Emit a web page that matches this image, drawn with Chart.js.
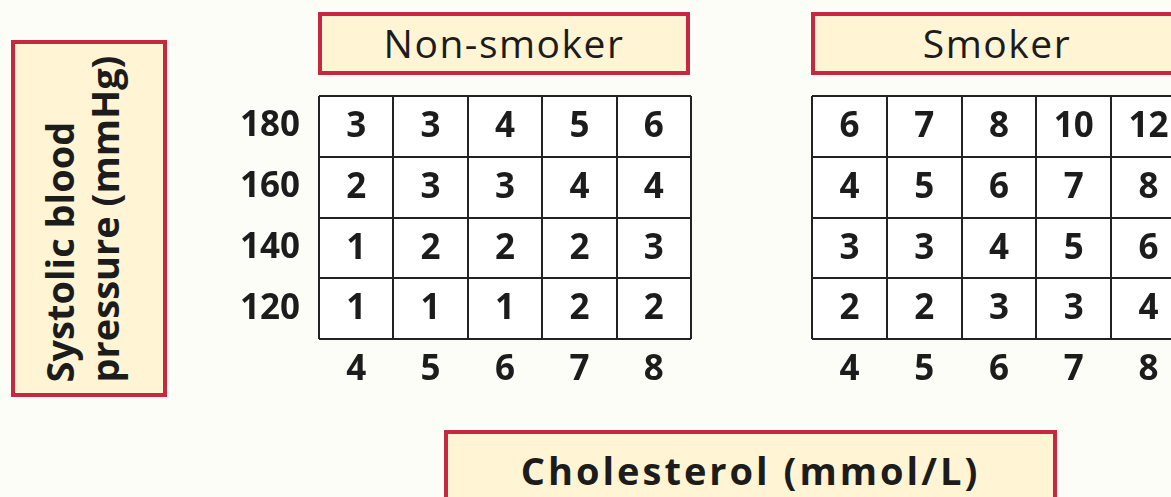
<!DOCTYPE html>
<html>
<head>
<meta charset="utf-8">
<script src="https://cdn.jsdelivr.net/npm/chart.js@4"></script>
<style>
  html, body { margin: 0; padding: 0; background: #fdfdf8; overflow: hidden; }
  body { width: 1171px; height: 497px; position: relative; font-family: "Open Sans", sans-serif; color: #1c1c1c; }
  .box { position: absolute; box-sizing: border-box; border: 4px solid #c8283f; background: #fff5d4; text-align: center; overflow: hidden; }
  .head { top: 12px; height: 63px; font-size: 39px; line-height: 54px; letter-spacing: 1.5px; }
  #yTitle { left: 11px; top: 40px; width: 156px; height: 357px; }
  #yTitle div { position: absolute; left: 45%; top: 50%; transform: translate(-50%, -50%) rotate(-90deg); white-space: nowrap; text-align: left; font-weight: bold; font-size: 38px; line-height: 45px; }
  #xTitle { left: 444px; top: 430px; width: 613px; height: 100px; font-weight: bold; font-size: 38px; line-height: 72px; letter-spacing: 3px; }
  canvas { position: absolute; }
</style>
</head>
<body>
<div class="box" id="yTitle"><div>Systolic blood<br>pressure (mmHg)</div></div>
<div class="box head" style="left:318px;width:372px">Non-smoker</div>
<div class="box head" style="left:811px;width:372px">Smoker</div>
<canvas id="nonSmoker" width="500" height="320" style="left:200px;top:90px;width:500px;height:320px"></canvas>
<canvas id="smoker" width="400" height="320" style="left:800px;top:90px;width:400px;height:320px"></canvas>
<div class="box" id="xTitle">Cholesterol (mmol/L)</div>
<script>
// cholesterol (x) and systolic pressure (rows, bottom to top)
const cholesterol = ['4', '5', '6', '7', '8'];
const pressure = ['120', '140', '160', '180'];

const nonSmoker120 = [1, 1, 1, 2, 2];
const nonSmoker140 = [1, 2, 2, 2, 3];
const nonSmoker160 = [2, 3, 3, 4, 4];
const nonSmoker180 = [3, 3, 4, 5, 6];

const smoker120 = [2, 2, 3, 3, 4];
const smoker140 = [3, 3, 4, 5, 6];
const smoker160 = [4, 5, 6, 7, 8];
const smoker180 = [6, 7, 8, 10, 12];

const numFont = { family: '"Open Sans", sans-serif', size: 35, weight: 'bold' };
const ink = '#1c1c1c';

// writes the risk value in the middle of each cell
const cellText = {
  id: 'cellText',
  afterDatasetsDraw(chart) {
    const c = chart.ctx;
    c.save();
    c.font = 'bold 35px "Open Sans", sans-serif';
    c.fillStyle = ink;
    c.textAlign = 'center';
    c.textBaseline = 'middle';
    chart.data.datasets.forEach((ds, i) => {
      chart.getDatasetMeta(i).data.forEach((bar, j) => {
        c.fillText(ds.risk[j], bar.x, (bar.y + bar.base) / 2 + 1);
      });
    });
    c.restore();
  }
};

function drawTable(id, rows, showY, pad) {
  return new Chart(document.getElementById(id), {
    type: 'bar',
    data: {
      labels: cholesterol,
      datasets: rows.map((row, r) => ({
        label: pressure[r],
        data: row.map(() => [r, r + 1]),
        risk: row,
        backgroundColor: '#ffffff',
        borderWidth: 0,
        grouped: false,
        barPercentage: 1,
        categoryPercentage: 1
      }))
    },
    options: {
      responsive: false,
      animation: false,
      layout: { padding: pad },
      plugins: { legend: { display: false }, tooltip: { enabled: false } },
      scales: {
        x: {
          offset: true,
          grid: { offset: true, color: '#222', lineWidth: 2, drawTicks: false, z: 1 },
          border: { display: false },
          ticks: { font: numFont, color: ink, padding: 10, autoSkip: false, maxRotation: 0 },
          afterFit(s) { s.height = 71; s.paddingLeft = 0; s.paddingRight = 0; }
        },
        y: {
          min: 0,
          max: 4,
          afterBuildTicks(s) {
            s.ticks = [0, 0.5, 1, 1.5, 2, 2.5, 3, 3.5, 4].map(v => ({ value: v }));
          },
          grid: {
            color: '#222',
            lineWidth: ctx => (ctx.tick && ctx.tick.value % 1 === 0 ? 2 : 0),
            drawTicks: false,
            z: 1
          },
          border: { display: false },
          ticks: {
            display: showY,
            autoSkip: false,
            font: numFont,
            color: ink,
            padding: 19,
            callback: v => (v % 1 ? pressure[Math.floor(v)] : '')
          },
          afterFit(s) { s.width = showY ? 119 : 0; s.paddingTop = 0; s.paddingBottom = 0; }
        }
      }
    },
    plugins: [cellText]
  });
}

drawTable('nonSmoker', [nonSmoker120, nonSmoker140, nonSmoker160, nonSmoker180], true, { top: 6, right: 9 });
drawTable('smoker', [smoker120, smoker140, smoker160, smoker180], false, { top: 6, left: 12, right: 14 });
</script>
</body>
</html>
